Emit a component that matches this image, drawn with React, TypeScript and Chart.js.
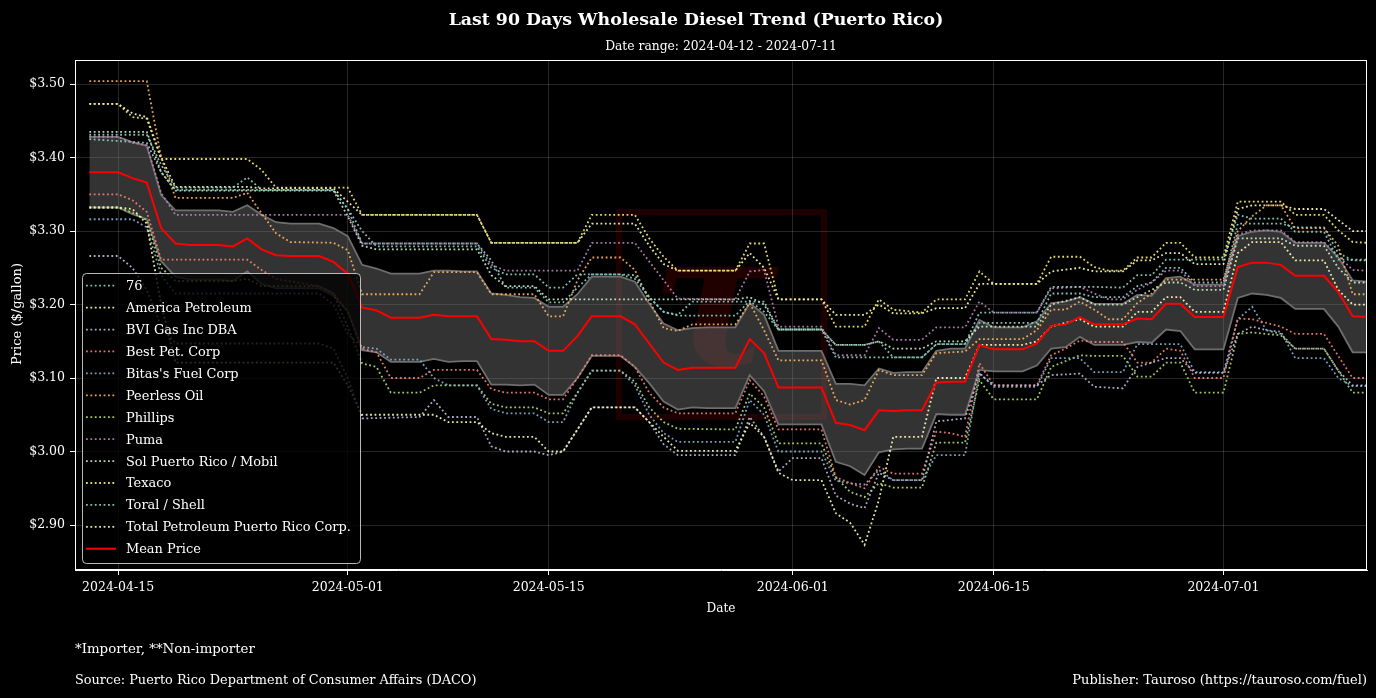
import { useEffect, useRef } from "react";
import { Chart, registerables } from "chart.js";

Chart.register(...registerables);

const FONT = '"DejaVu Serif", serif';

// ---- axis / text data ----
// day index 0 = 2024-04-12 (left edge of the axis), 90 = 2024-07-11
const xTickDays = [3, 19, 33, 50, 64, 80];
const xTickLabels = ["2024-04-15", "2024-05-01", "2024-05-15", "2024-06-01", "2024-06-15", "2024-07-01"];
const yTicks = [2.9, 3.0, 3.1, 3.2, 3.3, 3.4, 3.5];
const titleText = "Last 90 Days Wholesale Diesel Trend (Puerto Rico)";
const subtitleText = "Date range: 2024-04-12 - 2024-07-11";

// ---- daily mean price, from day 1 (2024-04-13) to day 90 (2024-07-11) ----
const firstDay = 1;
const meanPrice = [
  3.380, 3.380, 3.380, 3.372, 3.366, 3.304, 3.283, 3.281, 3.281,
  3.281, 3.279, 3.290, 3.275, 3.267, 3.266, 3.266, 3.266, 3.258, 3.242,
  3.196, 3.192, 3.182, 3.182, 3.182, 3.186, 3.184, 3.184, 3.184, 3.153,
  3.152, 3.150, 3.150, 3.137, 3.137, 3.157, 3.184, 3.184, 3.184, 3.173,
  3.147, 3.121, 3.111, 3.114, 3.114, 3.114, 3.114, 3.153, 3.134, 3.087,
  3.087, 3.087, 3.087, 3.039, 3.036, 3.029, 3.056, 3.055, 3.056, 3.056,
  3.094, 3.095, 3.095, 3.145, 3.139, 3.139, 3.139, 3.147, 3.171, 3.173,
  3.183, 3.173, 3.173, 3.173, 3.181, 3.180, 3.201, 3.201, 3.183, 3.183,
  3.183, 3.251, 3.257, 3.257, 3.254, 3.239, 3.239, 3.239, 3.217, 3.184,
  3.183,
];

// ---- daily standard deviation (same days) ----
const stdDev = [
  0.048, 0.048, 0.048, 0.049, 0.050, 0.045, 0.045, 0.047, 0.047,
  0.047, 0.047, 0.045, 0.047, 0.045, 0.044, 0.044, 0.044, 0.046, 0.051,
  0.058, 0.057, 0.060, 0.060, 0.060, 0.060, 0.062, 0.061, 0.061, 0.062,
  0.061, 0.060, 0.059, 0.060, 0.060, 0.057, 0.054, 0.054, 0.054, 0.058,
  0.054, 0.053, 0.054, 0.054, 0.055, 0.055, 0.055, 0.049, 0.052, 0.050,
  0.050, 0.050, 0.050, 0.053, 0.056, 0.061, 0.057, 0.052, 0.052, 0.052,
  0.043, 0.045, 0.045, 0.034, 0.030, 0.030, 0.030, 0.030, 0.031, 0.031,
  0.027, 0.028, 0.028, 0.028, 0.032, 0.032, 0.035, 0.037, 0.044, 0.044,
  0.044, 0.042, 0.042, 0.044, 0.045, 0.045, 0.045, 0.045, 0.047, 0.049,
  0.048,
];

// ---- company prices: [day, price] ----
const p76 = [[1,3.431],[5,3.431],[6,3.39],[7,3.359],[11,3.359],[12,3.373],[13,3.356],[18,3.356],[19,3.33],[20,3.30],[21,3.279],[28,3.279],[29,3.250],[30,3.241],[32,3.241],[33,3.223],[34,3.223],[35,3.241],[38,3.241],[39,3.24],[40,3.21],[41,3.19],[42,3.186],[43,3.204],[48,3.204],[49,3.166],[52,3.166],[53,3.128],[59,3.128],[60,3.146],[62,3.146],[63,3.189],[67,3.189],[68,3.224],[71,3.224],[73,3.223],[74,3.240],[75,3.240],[76,3.261],[80,3.261],[81,3.322],[82,3.317],[84,3.317],[85,3.299],[87,3.299],[88,3.261],[90,3.261]];
const pAmerica = [[1,3.332],[3,3.332],[4,3.33],[5,3.31],[6,3.20],[7,3.121],[18,3.121],[19,3.09],[20,3.050],[25,3.050],[26,3.040],[28,3.040],[29,3.025],[30,3.020],[32,3.020],[33,3.00],[34,3.00],[35,3.03],[36,3.06],[39,3.06],[40,3.04],[41,3.02],[42,3.001],[46,3.001],[47,3.039],[48,3.02],[49,2.971],[50,2.961],[52,2.961],[53,2.916],[54,2.903],[55,2.873],[56,2.934],[57,3.020],[59,3.020],[60,3.10],[62,3.10],[63,3.145],[66,3.145],[67,3.15],[68,3.17],[70,3.18],[71,3.17],[73,3.17],[74,3.19],[75,3.19],[76,3.21],[77,3.21],[78,3.19],[80,3.19],[81,3.27],[82,3.285],[84,3.285],[85,3.26],[87,3.26],[88,3.22],[89,3.20],[90,3.20]];
const pBVI = [[1,3.266],[3,3.266],[4,3.25],[5,3.22],[6,3.17],[7,3.147],[17,3.147],[18,3.14],[19,3.10],[20,3.045],[24,3.047],[25,3.070],[26,3.047],[28,3.047],[29,3.007],[30,3.00],[32,3.00],[33,2.995],[34,3.000],[35,3.03],[36,3.06],[39,3.06],[40,3.04],[41,3.01],[42,2.995],[46,2.995],[47,3.047],[48,3.02],[49,2.973],[50,2.991],[52,2.991],[53,2.94],[54,2.929],[55,2.923],[56,2.971],[57,2.961],[59,2.961],[60,3.041],[62,3.045],[63,3.106],[64,3.090],[67,3.090],[68,3.104],[70,3.106],[71,3.088],[73,3.086],[74,3.115],[76,3.127],[77,3.127],[78,3.107],[80,3.107],[81,3.160],[82,3.17],[84,3.16],[85,3.14],[87,3.14],[88,3.11],[89,3.09],[90,3.09]];
const pBestPet = [[1,3.350],[3,3.350],[4,3.342],[5,3.326],[6,3.261],[12,3.261],[13,3.247],[14,3.235],[17,3.225],[18,3.215],[19,3.19],[20,3.140],[21,3.135],[22,3.100],[24,3.100],[25,3.111],[28,3.111],[29,3.085],[30,3.080],[32,3.080],[33,3.071],[34,3.071],[35,3.100],[36,3.131],[38,3.131],[39,3.115],[40,3.08],[41,3.06],[42,3.052],[46,3.052],[47,3.097],[48,3.075],[49,3.030],[52,3.030],[53,2.965],[54,2.957],[55,2.950],[56,2.979],[57,2.970],[59,2.970],[60,3.027],[61,3.025],[62,3.020],[63,3.120],[64,3.090],[67,3.090],[68,3.131],[69,3.140],[70,3.151],[71,3.149],[73,3.149],[74,3.121],[75,3.121],[76,3.140],[77,3.137],[78,3.100],[80,3.100],[81,3.181],[82,3.180],[83,3.175],[84,3.17],[85,3.160],[87,3.160],[88,3.13],[89,3.100],[90,3.100]];
const pBitas = [[1,3.316],[4,3.316],[5,3.305],[6,3.24],[7,3.215],[17,3.215],[18,3.20],[19,3.16],[20,3.142],[21,3.140],[22,3.125],[24,3.125],[25,3.10],[26,3.09],[28,3.09],[29,3.058],[30,3.052],[32,3.052],[33,3.04],[34,3.04],[35,3.08],[36,3.110],[38,3.110],[39,3.09],[40,3.05],[41,3.025],[42,3.013],[46,3.013],[47,3.070],[48,3.05],[49,3.00],[52,3.00],[53,2.96],[54,2.957],[55,2.955],[56,2.975],[57,2.961],[59,2.961],[60,2.995],[62,2.995],[63,3.107],[64,3.088],[67,3.088],[68,3.127],[70,3.127],[71,3.108],[73,3.108],[74,3.146],[77,3.146],[78,3.108],[80,3.108],[81,3.18],[82,3.197],[83,3.165],[84,3.163],[85,3.127],[87,3.127],[88,3.10],[89,3.089],[90,3.089]];
const pPeerless = [[1,3.504],[5,3.504],[6,3.40],[7,3.345],[11,3.345],[12,3.352],[13,3.324],[14,3.297],[15,3.285],[18,3.284],[19,3.274],[20,3.214],[24,3.214],[25,3.244],[28,3.244],[29,3.214],[32,3.214],[33,3.184],[34,3.184],[35,3.233],[36,3.264],[38,3.264],[39,3.247],[40,3.205],[41,3.168],[42,3.164],[43,3.173],[46,3.173],[47,3.202],[48,3.165],[49,3.124],[52,3.124],[53,3.070],[54,3.064],[55,3.070],[56,3.111],[57,3.104],[59,3.104],[60,3.134],[62,3.136],[63,3.153],[66,3.153],[67,3.165],[68,3.193],[69,3.193],[70,3.204],[71,3.193],[72,3.180],[73,3.180],[74,3.202],[75,3.215],[76,3.234],[80,3.234],[81,3.300],[82,3.320],[83,3.335],[84,3.335],[85,3.304],[87,3.304],[88,3.28],[89,3.214],[90,3.214]];
const pPhillips = [[1,3.332],[3,3.332],[4,3.325],[5,3.315],[6,3.25],[7,3.232],[11,3.232],[12,3.235],[13,3.225],[17,3.225],[18,3.215],[19,3.17],[20,3.120],[21,3.115],[22,3.080],[24,3.080],[25,3.090],[28,3.090],[29,3.065],[30,3.060],[32,3.060],[33,3.052],[34,3.052],[35,3.080],[36,3.110],[38,3.110],[39,3.095],[40,3.06],[41,3.04],[42,3.031],[46,3.030],[47,3.079],[48,3.06],[49,3.011],[52,3.011],[53,2.965],[54,2.945],[55,2.938],[56,2.957],[57,2.951],[59,2.951],[60,3.012],[62,3.012],[63,3.097],[64,3.071],[67,3.071],[68,3.115],[70,3.131],[71,3.130],[73,3.130],[74,3.102],[75,3.102],[76,3.121],[77,3.121],[78,3.080],[80,3.080],[81,3.160],[82,3.162],[84,3.158],[85,3.140],[87,3.140],[88,3.11],[89,3.080],[90,3.080]];
const pPuma = [[1,3.428],[3,3.428],[4,3.42],[5,3.417],[6,3.352],[7,3.322],[19,3.322],[20,3.283],[28,3.283],[29,3.254],[30,3.246],[35,3.246],[36,3.284],[39,3.284],[41,3.233],[42,3.208],[46,3.207],[47,3.245],[48,3.247],[49,3.170],[52,3.170],[53,3.131],[55,3.131],[56,3.168],[57,3.152],[59,3.152],[60,3.169],[62,3.169],[63,3.204],[64,3.189],[67,3.189],[68,3.222],[70,3.224],[71,3.215],[72,3.207],[73,3.207],[74,3.22],[75,3.23],[76,3.246],[77,3.246],[78,3.225],[80,3.225],[81,3.295],[82,3.301],[84,3.301],[85,3.285],[87,3.285],[88,3.266],[89,3.247],[90,3.246]];
const pSol = [[1,3.435],[5,3.435],[6,3.38],[7,3.355],[18,3.355],[19,3.32],[20,3.28],[21,3.275],[28,3.275],[29,3.24],[30,3.225],[32,3.225],[33,3.207],[46,3.207],[47,3.21],[48,3.20],[49,3.166],[52,3.166],[53,3.145],[55,3.145],[56,3.15],[57,3.14],[59,3.14],[60,3.15],[62,3.15],[63,3.17],[67,3.17],[68,3.20],[70,3.21],[71,3.20],[73,3.20],[74,3.21],[75,3.22],[76,3.23],[77,3.23],[78,3.22],[80,3.22],[81,3.29],[84,3.29],[85,3.28],[87,3.28],[88,3.25],[89,3.23],[90,3.23]];
const pTexaco = [[1,3.473],[3,3.473],[4,3.455],[5,3.453],[6,3.398],[12,3.398],[13,3.383],[14,3.359],[19,3.359],[20,3.322],[28,3.322],[29,3.284],[35,3.284],[36,3.322],[39,3.322],[40,3.29],[41,3.265],[42,3.246],[46,3.246],[47,3.283],[48,3.283],[49,3.207],[52,3.207],[53,3.170],[55,3.170],[56,3.207],[57,3.193],[59,3.189],[60,3.207],[62,3.207],[63,3.245],[64,3.228],[67,3.228],[68,3.265],[70,3.265],[71,3.251],[72,3.246],[73,3.246],[74,3.264],[75,3.264],[76,3.284],[77,3.284],[78,3.264],[80,3.264],[81,3.340],[84,3.340],[85,3.322],[87,3.322],[88,3.301],[89,3.285],[90,3.284]];
const pToral = [[1,3.425],[5,3.42],[6,3.38],[7,3.356],[18,3.356],[19,3.33],[20,3.283],[28,3.283],[29,3.26],[30,3.223],[32,3.223],[33,3.203],[34,3.203],[35,3.223],[36,3.241],[38,3.241],[39,3.235],[40,3.21],[41,3.19],[42,3.185],[46,3.185],[47,3.205],[48,3.19],[49,3.166],[52,3.166],[53,3.145],[55,3.145],[56,3.15],[57,3.128],[59,3.128],[60,3.146],[62,3.146],[63,3.175],[67,3.175],[68,3.215],[70,3.215],[71,3.21],[73,3.21],[74,3.225],[75,3.23],[76,3.25],[77,3.25],[78,3.23],[80,3.23],[81,3.31],[84,3.31],[85,3.305],[87,3.305],[88,3.27],[89,3.26],[90,3.26]];
const pTotal = [[1,3.473],[3,3.473],[4,3.46],[5,3.455],[6,3.40],[7,3.36],[12,3.36],[13,3.358],[18,3.358],[19,3.34],[20,3.322],[28,3.322],[29,3.284],[35,3.284],[36,3.31],[39,3.31],[40,3.28],[41,3.255],[42,3.246],[46,3.246],[47,3.27],[48,3.25],[49,3.207],[52,3.207],[53,3.186],[55,3.186],[56,3.20],[57,3.188],[59,3.188],[60,3.195],[62,3.195],[63,3.228],[67,3.228],[68,3.245],[70,3.25],[71,3.245],[73,3.245],[74,3.26],[75,3.26],[76,3.27],[77,3.27],[78,3.255],[80,3.255],[81,3.33],[82,3.335],[84,3.335],[85,3.33],[87,3.33],[88,3.315],[89,3.30],[90,3.30]];

const companyNames = ["76", "America Petroleum", "BVI Gas Inc DBA", "Best Pet. Corp", "Bitas's Fuel Corp", "Peerless Oil", "Phillips", "Puma", "Sol Puerto Rico / Mobil", "Texaco", "Toral / Shell", "Total Petroleum Puerto Rico Corp."];
const companySeries = [p76, pAmerica, pBVI, pBestPet, pBitas, pPeerless, pPhillips, pPuma, pSol, pTexaco, pToral, pTotal];
const companyColors = ["#8dd3c7", "#feffb3", "#bfbbd9", "#fa8174", "#81b1d2", "#fdb462", "#b3de69", "#bc82bd", "#ccebc4", "#ffed6f", "#8dd3c7", "#feffb3"];

function rgba(hex: string, a: number) {
  const n = parseInt(hex.slice(1), 16);
  return `rgba(${(n >> 16) & 255},${(n >> 8) & 255},${n & 255},${a})`;
}

function fitFont(ctx: CanvasRenderingContext2D, text: string, target: number, weight: string) {
  ctx.font = `${weight} 100px ${FONT}`;
  const w = ctx.measureText(text).width;
  return `${weight} ${(100 * target) / w}px ${FONT}`;
}

const DOT = [1.8, 2.6];
const DOT_ALPHA = 0.9;
const DOT_WIDTH = 1.8;

const decorPlugin = {
  id: "decor",
  beforeDraw(chart: any) {
    const { ctx, chartArea: a } = chart;
    ctx.save();
    ctx.fillStyle = "#000";
    ctx.fillRect(0, 0, chart.width, chart.height);
    // watermark
    const cx = (a.left + a.right) / 2;
    const cy = (a.top + a.bottom) / 2;
    ctx.strokeStyle = "rgba(255,0,0,0.12)";
    ctx.lineWidth = 6;
    ctx.strokeRect(cx - 102, cy - 103, 205, 205);
    ctx.fillStyle = "rgba(255,0,0,0.13)";
    ctx.font = `italic bold 190px ${FONT}`;
    ctx.textAlign = "center";
    ctx.textBaseline = "alphabetic";
    ctx.fillText("τ", cx - 6, cy + 50);
    ctx.restore();
  },
  afterDraw(chart: any) {
    const { ctx, chartArea: a } = chart;
    ctx.save();
    // spines
    ctx.strokeStyle = "#ffffff";
    ctx.lineWidth = 1;
    ctx.strokeRect(Math.round(a.left) + 0.5, Math.round(a.top) + 0.5, Math.round(a.right - a.left) - 1, Math.round(a.bottom - a.top) - 1);

    // texts
    ctx.fillStyle = "#ffffff";
    ctx.textBaseline = "alphabetic";
    ctx.textAlign = "center";
    ctx.font = fitFont(ctx, titleText, 495, "bold");
    ctx.fillText(titleText, 696, 25);
    ctx.font = fitFont(ctx, subtitleText, 232, "normal");
    ctx.fillText(subtitleText, 721, 50);
    ctx.font = fitFont(ctx, "Date", 29, "normal");
    ctx.fillText("Date", 721, 612);
    ctx.save();
    ctx.translate(21, 314);
    ctx.rotate(-Math.PI / 2);
    ctx.font = fitFont(ctx, "Price ($/gallon)", 102, "normal");
    ctx.fillText("Price ($/gallon)", 0, 0);
    ctx.restore();
    ctx.textAlign = "left";
    const f1 = "*Importer, **Non-importer";
    ctx.font = fitFont(ctx, f1, 180, "normal");
    ctx.fillText(f1, 75, 653);
    const f2 = "Source: Puerto Rico Department of Consumer Affairs (DACO)";
    ctx.font = fitFont(ctx, f2, 402, "normal");
    ctx.fillText(f2, 75, 684);
    const f3 = "Publisher: Tauroso (https://tauroso.com/fuel)";
    ctx.textAlign = "right";
    ctx.font = fitFont(ctx, f3, 295, "normal");
    ctx.fillText(f3, 1367, 684);

    // legend
    const lx = 82, ly = 273, lw = 278, lh = 290;
    ctx.beginPath();
    ctx.roundRect(lx + 0.5, ly + 0.5, lw, lh, 4);
    ctx.fillStyle = "rgba(0,0,0,0.8)";
    ctx.fill();
    ctx.strokeStyle = "rgba(204,204,204,0.9)";
    ctx.lineWidth = 1;
    ctx.stroke();
    const items = companyNames.map((n, i) => ({ name: n, color: rgba(companyColors[i], DOT_ALPHA), dash: DOT, w: DOT_WIDTH }));
    items.push({ name: "Mean Price", color: "#ff0000", dash: [], w: 2 });
    const legendFont = fitFont(ctx, "Total Petroleum Puerto Rico Corp.", 225, "normal");
    items.forEach((it, i) => {
      const y = 285.7 + i * 21.92;
      ctx.beginPath();
      ctx.setLineDash(it.dash);
      ctx.strokeStyle = it.color;
      ctx.lineWidth = it.w;
      ctx.moveTo(86, y);
      ctx.lineTo(116, y);
      ctx.stroke();
      ctx.setLineDash([]);
      ctx.fillStyle = "#ffffff";
      ctx.textAlign = "left";
      ctx.font = legendFont;
      ctx.fillText(it.name, 126, y + 4.5);
    });
    ctx.restore();
  },
};

export default function App() {
  const ref = useRef<HTMLCanvasElement | null>(null);
  useEffect(() => {
    document.body.style.margin = "0";
    document.body.style.background = "#000";
    const canvas = ref.current!;
    const upper = meanPrice.map((m, i) => ({ x: i + firstDay, y: m + stdDev[i] }));
    const lower = meanPrice.map((m, i) => ({ x: i + firstDay, y: m - stdDev[i] }));
    const datasets: any[] = [
      {
        label: "Mean Price",
        data: meanPrice.map((y, i) => ({ x: i + firstDay, y })),
        borderColor: "#ff0000",
        borderWidth: 2,
        pointRadius: 0,
        fill: false,
        order: 0,
      },
      ...companyNames.map((name, i) => ({
        label: name,
        data: companySeries[i].map(([x, y]) => ({ x, y })),
        borderColor: rgba(companyColors[i], DOT_ALPHA),
        borderWidth: DOT_WIDTH,
        borderDash: DOT,
        pointRadius: 0,
        fill: false,
        order: 1,
      })),
      {
        label: "Upper",
        data: upper,
        borderColor: "#6e6e6e",
        borderWidth: 1.8,
        pointRadius: 0,
        fill: "+1",
        backgroundColor: "rgba(128,128,128,0.4)",
        order: 2,
      },
      {
        label: "Lower",
        data: lower,
        borderColor: "#6e6e6e",
        borderWidth: 1.8,
        pointRadius: 0,
        fill: false,
        order: 2,
      },
    ];
    const tickFont = { family: FONT, size: 12.5 };
    const chart = new Chart(canvas, {
      type: "line",
      data: { datasets },
      options: {
        animation: false,
        responsive: false,
        devicePixelRatio: 1,
        layout: { padding: { left: 0, right: 9, top: 60, bottom: 0 } },
        elements: { line: { tension: 0, borderCapStyle: "butt" } },
        plugins: {
          legend: { display: false },
          tooltip: { enabled: false },
          filler: { drawTime: "beforeDatasetsDraw" } as any,
        },
        scales: {
          x: {
            type: "linear",
            min: 0,
            max: 90,
            afterBuildTicks: (s: any) => {
              s.ticks = xTickDays.map((v) => ({ value: v }));
            },
            afterFit: (s: any) => {
              s.height = 128;
            },
            ticks: {
              color: "#ffffff",
              font: tickFont,
              autoSkip: false,
              maxRotation: 0,
              padding: 5,
              callback: (_v: any, i: number) => xTickLabels[i],
            },
            grid: { color: "rgba(255,255,255,0.15)", tickColor: "#ffffff", tickLength: 5, lineWidth: 1 },
            border: { color: "#ffffff", width: 1 },
          },
          y: {
            type: "linear",
            min: 2.8388,
            max: 3.5327,
            afterBuildTicks: (s: any) => {
              s.ticks = yTicks.map((v) => ({ value: v }));
            },
            afterFit: (s: any) => {
              s.width = 75;
            },
            ticks: {
              color: "#ffffff",
              font: tickFont,
              padding: 5,
              callback: (v: any) => `$${Number(v).toFixed(2)}`,
            },
            grid: { color: "rgba(255,255,255,0.15)", tickColor: "#ffffff", tickLength: 5, lineWidth: 1 },
            border: { color: "#ffffff", width: 1 },
          },
        },
      },
      plugins: [decorPlugin],
    } as any);
    return () => chart.destroy();
  }, []);
  return (
    <div style={{ width: 1376, height: 698, background: "#000" }}>
      <canvas ref={ref} width={1376} height={698} style={{ display: "block" }} />
    </div>
  );
}
